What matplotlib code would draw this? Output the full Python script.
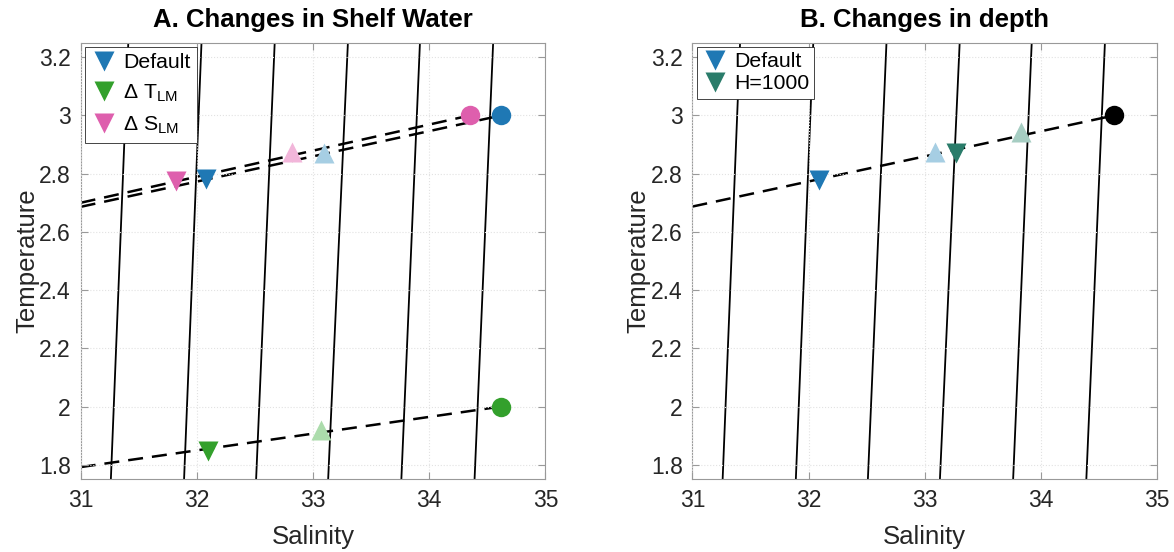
import numpy as np
import matplotlib
matplotlib.use("Agg")
import matplotlib.pyplot as plt

plt.rcParams['font.family'] = ['Liberation Sans', 'DejaVu Sans']
plt.rcParams['mathtext.default'] = 'regular'

# isopycnals: salinity where each line crosses the bottom / top of the axes
iso_T = [1.75, 3.25]
iso_S_bot = [31.26, 31.89, 32.51, 33.13, 33.76, 34.39]
iso_S_top = [31.41, 32.04, 32.67, 33.30, 33.92, 34.55]

# panel A: changes in shelf water
def_line_S = [31.0, 34.62]
def_line_T = [2.686, 3.0]
def_circ = (34.62, 3.0)
def_down = (32.08, 2.78)
def_up = (33.09, 2.872)

dT_line_S = [31.0, 34.62]
dT_line_T = [1.792, 2.0]
dT_circ = (34.62, 2.0)
dT_down = (32.10, 1.848)
dT_up = (33.07, 1.92)

dS_line_S = [31.0, 34.35]
dS_line_T = [2.70, 3.0]
dS_circ = (34.35, 3.0)
dS_down = (31.82, 2.775)
dS_up = (32.82, 2.874)

# panel B: changes in depth
b_line_S = [31.0, 34.63]
b_line_T = [2.687, 3.0]
b_circ = (34.63, 3.0)
b_def_down = (32.09, 2.777)
b_def_up = (33.09, 2.875)
b_h_down = (33.27, 2.872)
b_h_up = (33.83, 2.942)

blue, lblue = '#1f78b4', '#a6cee3'
green, lgreen = '#33a02c', '#acdcac'
pink, lpink = '#de5fad', '#f2b6da'
teal, lteal = '#2a7c6a', '#a6cdc2'

fig = plt.figure(figsize=(11.74, 5.52), dpi=100)
axA = fig.add_axes([0.0687, 0.1317, 0.3959, 0.791])
axB = fig.add_axes([0.5898, 0.1317, 0.3959, 0.791])

dash = (0, (6, 3.6))
tri = 15
circ = 14


def style(ax, title):
    for sb, st in zip(iso_S_bot, iso_S_top):
        ax.plot([sb, st], iso_T, color='k', lw=1.3, zorder=1.5)
    ax.set_xlim(31, 35)
    ax.set_ylim(1.75, 3.25)
    ax.set_xticks([31, 32, 33, 34, 35])
    ax.set_xticklabels(['31', '32', '33', '34', '35'])
    ax.set_yticks([1.8, 2.0, 2.2, 2.4, 2.6, 2.8, 3.0, 3.2])
    ax.set_yticklabels(['1.8', '2', '2.2', '2.4', '2.6', '2.8', '3', '3.2'])
    ax.tick_params(direction='in', length=5, width=0.8, colors='#999999',
                   labelcolor='#262626', labelsize=16.5, top=True, right=True,
                   pad=7)
    for sp in ax.spines.values():
        sp.set_color('#999999')
        sp.set_linewidth(0.8)
    ax.grid(True, ls=':', color='#e2e2e2', lw=0.8)
    ax.set_axisbelow(False)
    ax.set_xlabel('Salinity', fontsize=18.5, color='#262626', labelpad=9)
    ax.set_ylabel('Temperature', fontsize=18.5, color='#262626', labelpad=0)
    ax.set_title(title, fontsize=18.5, fontweight='bold', pad=11)


style(axA, 'A. Changes in Shelf Water')
axA.plot(def_line_S, def_line_T, color='k', lw=1.8, ls=dash, zorder=2)
axA.plot(dS_line_S, dS_line_T, color='k', lw=1.8, ls=dash, zorder=2)
axA.plot(dT_line_S, dT_line_T, color='k', lw=1.8, ls=dash, zorder=2)

axA.plot(*def_circ, 'o', color=blue, ms=circ, mec='none', zorder=3)
axA.plot(*dT_circ, 'o', color=green, ms=circ, mec='none', zorder=3)
axA.plot(*dS_circ, 'o', color=pink, ms=circ, mec='none', zorder=3)
axA.plot(*def_up, '^', color=lblue, ms=tri, mec='none', zorder=3)
axA.plot(*dT_up, '^', color=lgreen, ms=tri, mec='none', zorder=3)
axA.plot(*dS_up, '^', color=lpink, ms=tri, mec='none', zorder=3)
h1, = axA.plot(*def_down, 'v', color=blue, ms=tri, mec='none', zorder=3)
h2, = axA.plot(*dT_down, 'v', color=green, ms=tri, mec='none', zorder=3)
h3, = axA.plot(*dS_down, 'v', color=pink, ms=tri, mec='none', zorder=3)
legA = axA.legend([h1, h2, h3], ['Default', 'Δ T$_{LM}$', 'Δ S$_{LM}$'],
                  loc='upper left', fontsize=15.3, fancybox=False, framealpha=1,
                  edgecolor='#262626', handlelength=1.2, handletextpad=0.3,
                  borderpad=0.3, labelspacing=0.5, borderaxespad=0.2)
legA.get_frame().set_linewidth(0.6)
legA.set_zorder(10)

style(axB, 'B. Changes in depth')
axB.plot(b_line_S, b_line_T, color='k', lw=1.8, ls=dash, zorder=2)
axB.plot(*b_circ, 'o', color='k', ms=circ, mec='none', zorder=3)
axB.plot(*b_def_up, '^', color=lblue, ms=tri, mec='none', zorder=3)
axB.plot(*b_h_up, '^', color=lteal, ms=tri, mec='none', zorder=3)
g1, = axB.plot(*b_def_down, 'v', color=blue, ms=tri, mec='none', zorder=3)
g2, = axB.plot(*b_h_down, 'v', color=teal, ms=tri, mec='none', zorder=3)
legB = axB.legend([g1, g2], ['Default', 'H=1000'],
                  loc='upper left', fontsize=15.3, fancybox=False, framealpha=1,
                  edgecolor='#262626', handlelength=1.2, handletextpad=0.3,
                  borderpad=0.25, labelspacing=0.15, borderaxespad=0.2)
legB.get_frame().set_linewidth(0.6)
legB.set_zorder(10)

fig.savefig('out.png', dpi=100)
